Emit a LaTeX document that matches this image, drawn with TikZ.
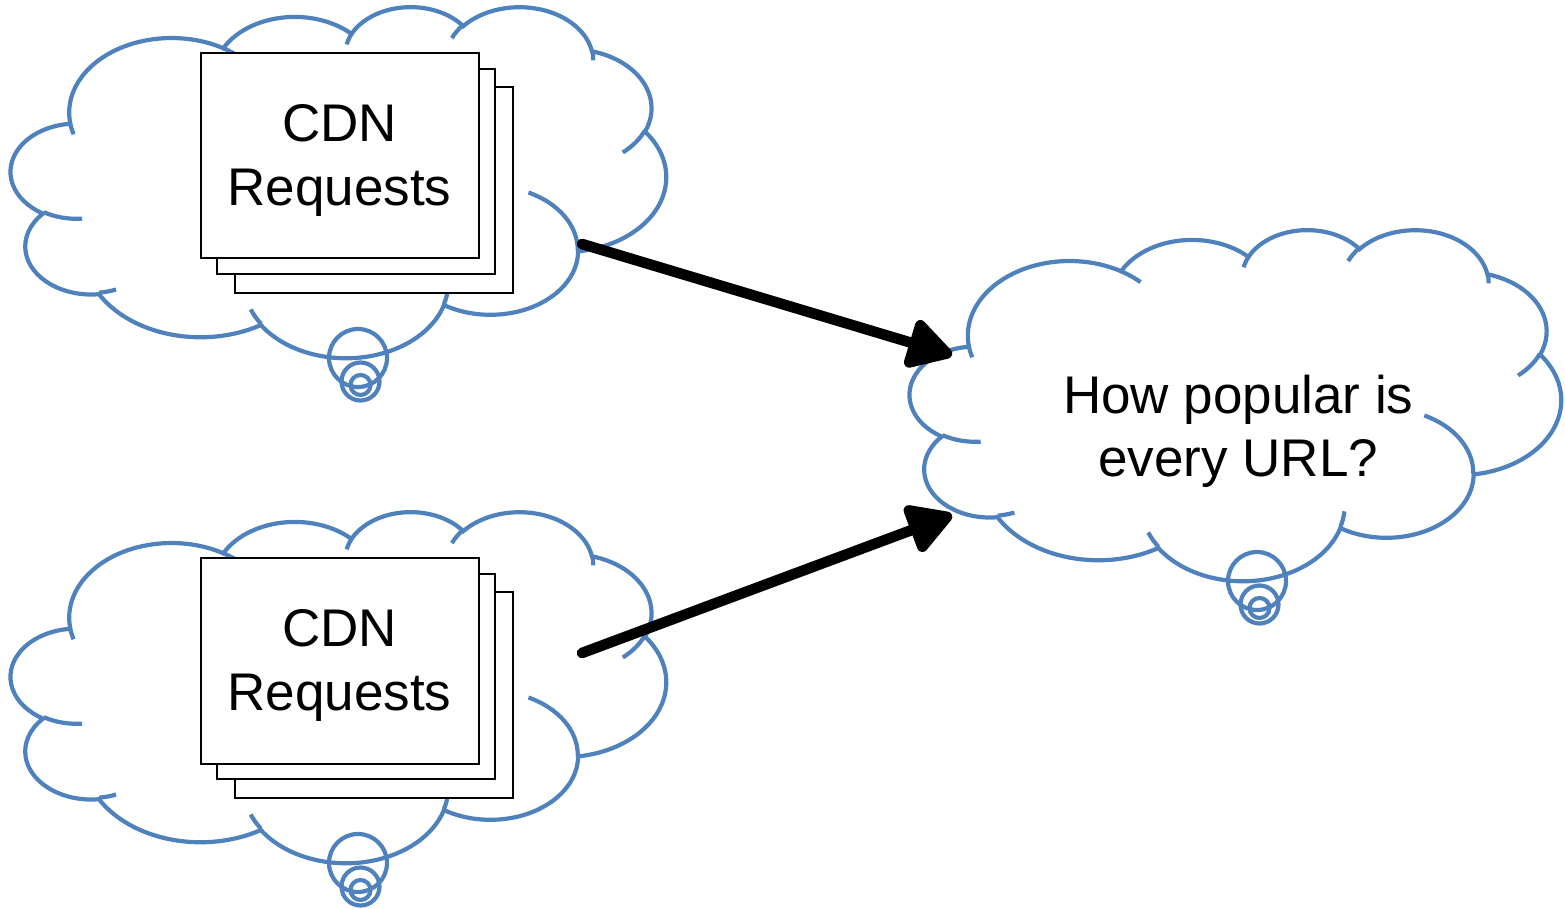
\documentclass[tikz,border=0pt]{standalone}
\usepackage{fontspec}
\setmainfont{Liberation Sans}
\usetikzlibrary{arrows.meta}
\definecolor{cloudblue}{RGB}{79,129,189}

% elliptical arc with DrawingML (visual, y-down) angles, drawn in y-up space
\newcommand\ooarc[4]{%
  \pgfmathsetmacro\ooTa{atan2(-(#1)*sin(#3),(#2)*cos(#3))}%
  \pgfmathsetmacro\ooTb{atan2(-(#1)*sin((#3)+(#4)),(#2)*cos((#3)+(#4)))}%
  \pgfmathsetmacro\ooD{\ooTb-\ooTa}%
  \pgfmathsetmacro\ooD{\ooD-360*(\ooD>0)}%
  \pgfmathsetmacro\ooTe{\ooTa+\ooD}%
  \pgfpatharc{\ooTa}{\ooTe}{#1pt and #2pt}%
}

\tikzset{
  cloudline/.style={draw=cloudblue, line width=2.1pt},
  pagebox/.style={draw=black, line width=1pt, fill=white, minimum width=139pt,
    minimum height=102.75pt, inner sep=0pt, outer sep=0pt},
  bigtext/.style={font=\fontsize{26.5pt}{32pt}\selectfont, align=center, inner sep=0pt},
  bigarrow/.style={line width=5.3pt, line cap=round,
    -{Triangle[length=25pt,width=27pt,line join=round]}},
}

% cloud: top-left x, top-left y, width, height (image px)
\newcommand\cloudat[4]{%
  \begin{scope}[shift={(#1,#2+#4)},xscale={#3/864},yscale={#4/864},color=cloudblue,line width=2.1pt]
    \pgfpathmoveto{\pgfqpoint{39pt}{288.3pt}}%
    \ooarc{67.53}{91.90}{-190.487483}{123.780533}%
    \ooarc{53.33}{72.67}{-144.102383}{89.945233}%
    \ooarc{43.65}{59.45}{-145.807917}{99.723017}%
    \ooarc{48.57}{65.95}{-130.986067}{117.241733}%
    \ooarc{53.33}{72.73}{-78.708883}{109.026917}%
    \ooarc{67.75}{92.20}{-46.26725}{130.269}%
    \ooarc{57.85}{78.67}{0.625017}{114.033333}%
    \ooarc{67.52}{92.15}{22.4516}{115.17255}%
    \ooarc{77.20}{105.43}{66.242633}{75.711017}%
    \ooarc{43.60}{59.18}{-274.942083}{146.735567}%
    \ooarc{43.45}{59.45}{-246.8285}{152.51885}%
    \pgfpathclose
    \pgfusepath{stroke}%
    \pgfpathmoveto{\pgfqpoint{46.93pt}{170.23pt}}\ooarc{43.45}{59.45}{86.742}{26.4295}%
    \pgfpathmoveto{\pgfqpoint{69.28pt}{83.01pt}}\ooarc{43.60}{59.18}{73.61047}{11.44747}%
    \pgfpathmoveto{\pgfqpoint{164.78pt}{41.10pt}}\ooarc{67.52}{92.15}{137.62415}{14.0811}%
    \pgfpathmoveto{\pgfqpoint{288.27pt}{84.49pt}}\ooarc{67.52}{92.15}{6.45327}{15.99835}%
    \pgfpathmoveto{\pgfqpoint{341.29pt}{202.46pt}}\ooarc{57.85}{78.67}{-70.29235}{70.91737}%
    \pgfpathmoveto{\pgfqpoint{417.98pt}{278.46pt}}\ooarc{53.33}{72.73}{30.31803}{27.7515}%
    \pgfpathmoveto{\pgfqpoint{383.24pt}{377.74pt}}\ooarc{48.57}{65.95}{-13.74433}{14.8589}%
    \pgfpathmoveto{\pgfqpoint{290.78pt}{392.48pt}}\ooarc{48.57}{65.95}{-149.18145}{18.19537}%
    \pgfpathmoveto{\pgfqpoint{221.41pt}{384.80pt}}\ooarc{43.65}{59.45}{-163.49427}{17.68635}%
    \pgfpathmoveto{\pgfqpoint{140.00pt}{380.08pt}}\ooarc{67.53}{91.90}{-66.70695}{12.31935}%
    \pgfpathmoveto{\pgfqpoint{41.27pt}{274.11pt}}\ooarc{67.53}{91.90}{157.65435}{11.85817}%
    \pgfusepath{stroke}%
  \end{scope}
  \draw[cloudline] (#1+347,#2+352) circle[radius=14.5pt];
  \draw[cloudline] (#1+349.5,#2+375.5) circle[radius=9.5pt];
  \draw[cloudline] (#1+349.5,#2+379) circle[radius=5pt];
}

\begin{document}
\begin{tikzpicture}[x=0.5pt,y=-0.5pt]
  \useasboundingbox (0,0) rectangle (1565,909);
  % clouds
  \cloudat{11}{6}{655}{351}
  \cloudat{11}{511}{655}{351}
  \cloudat{910}{229}{651}{351}

  % top stack of requests
  \node[pagebox] (t3) at (374.2,190.2) {};
  \node[pagebox] (t2) at (355.5,171.65) {};
  \node[pagebox, bigtext] (t1) at (339.5,155.75) {\rule{0pt}{23.5pt}CDN\\Requests};

  % bottom stack of requests
  \node[pagebox] (u3) at (374.2,695.2) {};
  \node[pagebox] (u2) at (355.5,676.65) {};
  \node[pagebox, bigtext] (u1) at (339.5,660.75) {\rule{0pt}{23.5pt}CDN\\Requests};

  % question
  \node[bigtext, font=\fontsize{26.5pt}{31.75pt}\selectfont] (q) at (1238.3,431.5) {How popular is\\every URL?};

  % arrows
  \coordinate (a1s) at (582,244);
  \coordinate (a1e) at (952,355);
  \coordinate (a2s) at (582,653);
  \coordinate (a2e) at (952,515);
  \draw[bigarrow] (a1s) -- (a1e);
  \draw[bigarrow] (a2s) -- (a2e);
\end{tikzpicture}
\end{document}
